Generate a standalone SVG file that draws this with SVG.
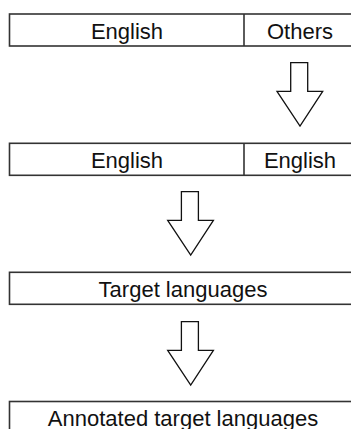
<svg xmlns="http://www.w3.org/2000/svg" width="351" height="429" viewBox="0 0 351 429">
  <style>
    .box { fill: #ffffff; stroke: #333333; stroke-width: 1.6; }
    .div { stroke: #333333; stroke-width: 1.6; }
    .lbl { font-family: "Liberation Sans", Arial, sans-serif; font-size: 22px; fill: #111111; text-anchor: middle; }
    .arrow { fill: #ffffff; stroke: #111111; stroke-width: 1.3; stroke-linejoin: miter; }
  </style>
  <defs>
    <!-- hollow block arrow pointing down, origin at tip -->
    <path id="down" d="M -9.3 -63.3 L 7.7 -63.3 L 7.7 -34.7 L 22.7 -34.7 L 0 0 L -23 -34.7 L -9.3 -34.7 Z"/>
  </defs>

  <g id="stage1">
    <rect class="box" x="9.5" y="14" width="347" height="32"/>
    <line class="div" x1="244" y1="14" x2="244" y2="46"/>
    <text class="lbl" x="127" y="39">English</text>
    <text class="lbl" x="300" y="39">Others</text>
  </g>

  <g id="stage2">
    <rect class="box" x="9.5" y="143.3" width="347" height="32"/>
    <line class="div" x1="244" y1="143.3" x2="244" y2="175.3"/>
    <text class="lbl" x="127" y="168">English</text>
    <text class="lbl" x="300" y="168">English</text>
  </g>

  <g id="stage3">
    <rect class="box" x="9.5" y="272.3" width="347" height="32"/>
    <text class="lbl" x="183" y="296.5">Target languages</text>
  </g>

  <g id="stage4">
    <rect class="box" x="9.5" y="401.5" width="347" height="32"/>
    <text class="lbl" x="183" y="426">Annotated target languages</text>
  </g>

  <g id="connectors">
    <use href="#down" class="arrow" transform="translate(300,126)"/>
    <use href="#down" class="arrow" transform="translate(190.7,255)"/>
    <use href="#down" class="arrow" transform="translate(190.7,385)"/>
  </g>
</svg>
